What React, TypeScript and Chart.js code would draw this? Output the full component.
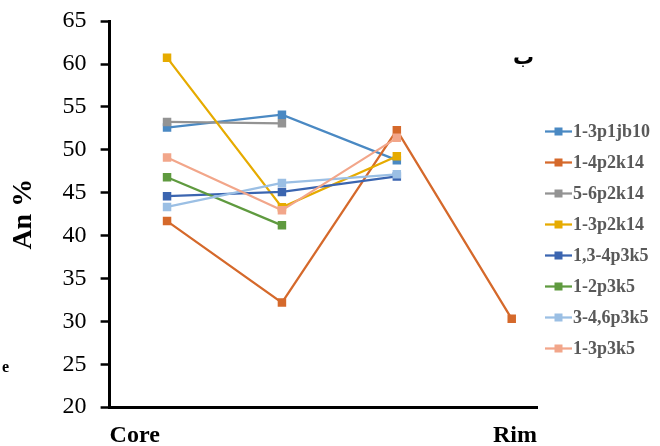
import { useEffect, useRef } from 'react';
import { Chart, registerables } from 'chart.js';

Chart.register(...registerables);

// x positions of the profile points (core -> rim)
const positions = [1, 2, 3, 4];
const xTickLabels = ['Core', 'Rim'];
const yAxisTitle = 'An %';

const seriesNames = [
  '1-3p1jb10',
  '1-4p2k14',
  '5-6p2k14',
  '1-3p2k14',
  '1,3-4p3k5',
  '1-2p3k5',
  '3-4,6p3k5',
  '1-3p3k5',
];

const s_1_3p1jb10 = [52.6, 54.1, 48.8, null];
const s_1_4p2k14 = [41.7, 32.2, 52.3, 30.3];
const s_5_6p2k14 = [53.25, 53.1, null, null];
const s_1_3p2k14 = [60.75, 43.3, 49.25, null];
const s_1_3_4p3k5 = [44.6, 45.1, 46.9, null];
const s_1_2p3k5 = [46.8, 41.2, null, null];
const s_3_4_6p3k5 = [43.35, 46.15, 47.15, null];
const s_1_3p3k5 = [49.1, 42.95, 51.4, null];

const seriesValues = [
  s_1_3p1jb10,
  s_1_4p2k14,
  s_5_6p2k14,
  s_1_3p2k14,
  s_1_3_4p3k5,
  s_1_2p3k5,
  s_3_4_6p3k5,
  s_1_3p3k5,
];

const seriesColors = [
  '#4a89c3',
  '#d5692b',
  '#939393',
  '#e6ab00',
  '#3b65b0',
  '#5f9a3f',
  '#9bbfe4',
  '#f2a68a',
];

const sideLegend = {
  id: 'sideLegend',
  afterDraw(chart: any) {
    const ctx = chart.ctx as CanvasRenderingContext2D;
    const x0 = 545;
    const lineW = 27;
    const y0 = 131.5;
    const step = 31;
    ctx.save();
    chart.data.datasets.forEach((ds: any, i: number) => {
      const y = y0 + i * step;
      ctx.strokeStyle = ds.borderColor;
      ctx.lineWidth = 2.25;
      ctx.beginPath();
      ctx.moveTo(x0, y);
      ctx.lineTo(x0 + lineW, y);
      ctx.stroke();
      ctx.fillStyle = ds.borderColor;
      ctx.fillRect(x0 + lineW / 2 - 4, y - 4, 8, 8);
      ctx.fillStyle = '#595959';
      ctx.font = 'bold 18px "Liberation Serif", serif';
      ctx.textBaseline = 'middle';
      ctx.textAlign = 'left';
      ctx.fillText(ds.label, x0 + lineW + 1, y + 1);
    });
    ctx.fillStyle = '#000';
    ctx.font = 'bold 21px "DejaVu Sans", sans-serif';
    ctx.textBaseline = 'alphabetic';
    ctx.fillText('ب', 513, 64);
    ctx.font = 'bold 16px "Liberation Serif", serif';
    ctx.fillText('e', 2, 372);
    ctx.restore();
  },
};

export default function App() {
  const ref = useRef<HTMLCanvasElement | null>(null);

  useEffect(() => {
    if (!ref.current) return;
    const n = seriesNames.length;
    const chart = new Chart(ref.current, {
      type: 'line',
      data: {
        datasets: seriesNames.map((name, i) => ({
          label: name,
          data: positions
            .map((x, j) => ({ x, y: seriesValues[i][j] }))
            .filter((p) => p.y !== null) as any,
          borderColor: seriesColors[i],
          backgroundColor: seriesColors[i],
          borderWidth: 2.25,
          pointStyle: 'rect',
          pointRadius: 6,
          pointBorderWidth: 0,
          pointBackgroundColor: seriesColors[i],
          tension: 0,
          fill: false,
          order: n - i,
        })),
      },
      options: {
        responsive: false,
        animation: false,
        layout: { padding: { left: 0, right: 123, top: 0, bottom: -10 } },
        plugins: {
          legend: { display: false },
          tooltip: { enabled: false },
        },
        scales: {
          x: {
            type: 'linear',
            min: 0.5,
            max: 4.22,
            grid: { display: false },
            border: { display: true, color: '#000', width: 3 },
            afterBuildTicks: (axis: any) => {
              axis.ticks = [{ value: axis.min }, { value: axis.max }];
            },
            ticks: {
              autoSkip: false,
              maxRotation: 0,
              align: 'inner',
              padding: 6,
              color: '#000',
              font: { family: '"Liberation Serif", serif', size: 24, weight: 'bold' },
              callback: (_v: any, index: number) => xTickLabels[index === 0 ? 0 : 1],
            },
          },
          y: {
            min: 20,
            max: 65,
            grid: {
              display: true,
              drawOnChartArea: false,
              drawTicks: true,
              tickLength: 9,
              tickColor: '#000',
              tickWidth: 2.5,
            },
            border: { display: true, color: '#000', width: 3 },
            ticks: {
              stepSize: 5,
              padding: 14,
              color: '#000',
              font: { family: '"Liberation Serif", serif', size: 24, lineHeight: 0.6 },
            },
            title: {
              display: true,
              text: yAxisTitle,
              color: '#000',
              padding: { top: 7, bottom: 8 },
              font: { family: '"Liberation Serif", serif', size: 28, weight: 'bold' },
            },
          },
        },
      },
      plugins: [sideLegend],
    });
    return () => chart.destroy();
  }, []);

  return (
    <div style={{ position: 'absolute', left: 0, top: 0, width: 660, height: 446, background: '#fff' }}>
      <canvas ref={ref} width={660} height={446} />
    </div>
  );
}
